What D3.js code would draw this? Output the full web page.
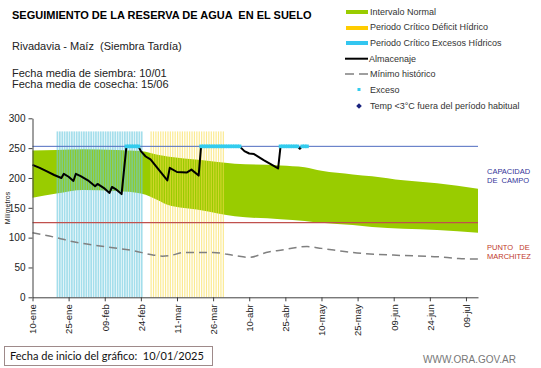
<!DOCTYPE html>
<html>
<head>
<meta charset="utf-8">
<script src="https://cdn.jsdelivr.net/npm/d3@7"></script>
<style>
  body { margin: 0; background: #fff; }
  svg { display: block; font-family: "Liberation Sans", Arial, sans-serif; }
</style>
</head>
<body>
<script>
// fechas
let inicio = "2025-01-10";
let fin = "2025-07-14";
let tickFechas = ["2025-01-10","2025-01-25","2025-02-09","2025-02-24","2025-03-11","2025-03-26",
                  "2025-04-10","2025-04-25","2025-05-10","2025-05-25","2025-06-09","2025-06-24","2025-07-09"];
let meses = ["ene","feb","mar","abr","may","jun","jul"];
let yTicks = [0, 50, 100, 150, 200, 250, 300];

// intervalo normal (dias desde el inicio)
let bandaDias = [0, 10, 21, 35, 45, 53, 56, 70, 84, 103, 113, 120, 133, 141, 154, 168, 185];
let bandaMax  = [246, 247, 248, 247, 245, 238, 236, 230, 224, 221, 218, 212, 206, 203, 196, 191, 182];
let bandaMin  = [167, 174, 180, 178, 174, 161, 155, 146, 136, 131, 128, 125, 121, 118, 115, 113, 108];

// almacenaje
let almDias    = [0, 3, 6, 9, 12, 13, 15, 17, 18, 20, 23, 26, 27, 30, 32, 33, 35, 37, 39, 44, 45, 47, 49, 52, 56,
                  57, 60, 64, 66, 69, 70, 86, 88, 90, 92, 96, 102, 103, 110, 111, 112, 114];
let almValores = [222, 217, 211, 205, 200, 207, 202, 195, 207, 203, 196, 186, 190, 182, 175, 185, 180, 173, 253, 253, 245, 236, 231, 216, 196,
                  217, 210, 209, 214, 204, 253, 253, 245, 241, 240, 230, 216, 253, 253, 249, 253, 253];

// minimo historico
let minDias    = [0, 10, 17, 28, 42, 50, 54, 57, 63, 70, 75, 84, 90, 98, 103, 114, 120, 133, 154, 168, 177, 185];
let minValores = [108, 100, 93, 86, 78, 71, 69, 70, 75, 75, 75, 70, 67, 76, 79, 85, 82, 75, 70, 68, 65, 64];

// dias con exceso (inicio, fin)
let excesoRangos = [[39, 44], [70, 86], [103, 110], [112, 114]];

// periodos criticos
let periodoExceso = ["2025-01-20", "2025-02-24"];
let periodoDeficit = ["2025-02-28", "2025-03-30"];

let capacidadCampo = 253;
let puntoMarchitez = 125;
let alturaPeriodo = 278;

let w = 541, h = 368;
let parse = d3.timeParse("%Y-%m-%d");
let t0 = parse(inicio);
let dia = d => d3.timeDay.offset(t0, d);

let svg = d3.select("body").append("svg").attr("width", w).attr("height", h);

let x = d3.scaleTime().domain([t0, parse(fin)]).range([32.5, 478]);
let y = d3.scaleLinear().domain([0, 300]).range([297.3, 118.3]);

// banda normal
let banda = bandaDias.map((d, i) => ({d: d, hi: bandaMax[i], lo: bandaMin[i]}));
svg.append("path")
  .datum(banda)
  .attr("fill", "#99cc00")
  .attr("d", d3.area()
    .x(d => x(dia(d.d)))
    .y0(d => y(d.lo))
    .y1(d => y(d.hi))
    .curve(d3.curveMonotoneX));

// franjas de periodos criticos
function franjas(periodo, color, ancho, op) {
  let dias = d3.timeDay.range(parse(periodo[0]), d3.timeDay.offset(parse(periodo[1]), 1));
  svg.append("g").selectAll("rect")
    .data(dias)
    .enter()
    .append("rect")
      .attr("x", d => x(d))
      .attr("y", y(alturaPeriodo))
      .attr("width", ancho)
      .attr("height", y(0) - y(alturaPeriodo))
      .attr("fill", color)
      .attr("fill-opacity", op);
}
franjas(periodoExceso, "#6cc9de", 1.7, 0.62);
franjas(periodoDeficit, "#f8dc4a", 1.2, 0.6);

// lineas de referencia
svg.append("line")
  .attr("x1", x.range()[0]).attr("x2", x.range()[1])
  .attr("y1", y(capacidadCampo)).attr("y2", y(capacidadCampo))
  .attr("stroke", "#4f6cc0").attr("stroke-width", 1);
svg.append("line")
  .attr("x1", x.range()[0]).attr("x2", x.range()[1])
  .attr("y1", y(puntoMarchitez)).attr("y2", y(puntoMarchitez))
  .attr("stroke", "#c0504d").attr("stroke-width", 1.2);

// minimo historico
svg.append("path")
  .datum(minDias.map((d, i) => [d, minValores[i]]))
  .attr("fill", "none")
  .attr("stroke", "#808080")
  .attr("stroke-width", 1.5)
  .attr("stroke-dasharray", "8,5")
  .attr("d", d3.line().x(d => x(dia(d[0]))).y(d => y(d[1])).curve(d3.curveMonotoneX));

// almacenaje
svg.append("path")
  .datum(almDias.map((d, i) => [d, almValores[i]]))
  .attr("fill", "none")
  .attr("stroke", "#000")
  .attr("stroke-width", 2)
  .attr("stroke-linejoin", "round")
  .attr("d", d3.line().x(d => x(dia(d[0]))).y(d => y(d[1])));

// exceso
let excesoDias = [];
excesoRangos.forEach(r => { d3.range(r[0], r[1] + 1).forEach(d => excesoDias.push(d)); });
svg.append("g").selectAll("rect")
  .data(excesoDias)
  .enter()
  .append("rect")
    .attr("x", d => x(dia(d)) - 1.8)
    .attr("y", y(capacidadCampo) - 1.8)
    .attr("width", 3.6)
    .attr("height", 3.6)
    .attr("fill", "#33ccee");

// ejes
let fmt = d => d3.timeFormat("%d")(d) + "-" + meses[d.getMonth()];
let xAxis = svg.append("g")
  .attr("transform", "translate(0," + y(0) + ")")
  .call(d3.axisBottom(x).tickValues(tickFechas.map(parse)).tickFormat(fmt).tickSize(4).tickSizeOuter(0));
xAxis.selectAll("text")
  .attr("transform", "rotate(-90)")
  .attr("text-anchor", "end")
  .attr("x", -7)
  .attr("y", 0)
  .attr("dy", "0.35em")
  .attr("font-size", 9.5)
  .attr("fill", "#222");

let yAxis = svg.append("g")
  .attr("transform", "translate(" + x.range()[0] + ",0)")
  .call(d3.axisLeft(y).tickValues(yTicks).tickSize(4).tickSizeOuter(0));
yAxis.selectAll("text").attr("font-size", 10).attr("fill", "#222");

svg.selectAll(".domain, .tick line").attr("stroke", "#404040");

svg.append("text")
  .attr("transform", "translate(10,208) rotate(-90)")
  .attr("text-anchor", "middle")
  .attr("font-size", 7)
  .attr("fill", "#222")
  .text("Milímetros");

// textos
svg.append("text").attr("x", 12).attr("y", 19).attr("font-size", 11).attr("font-weight", "bold")
  .attr("xml:space", "preserve").text("SEGUIMIENTO DE LA RESERVA DE AGUA  EN EL SUELO");
svg.append("text").attr("x", 12).attr("y", 50).attr("font-size", 11).attr("fill", "#222")
  .attr("xml:space", "preserve").text("Rivadavia - Maíz  (Siembra Tardía)");
svg.append("text").attr("x", 12).attr("y", 77).attr("font-size", 11).attr("fill", "#222")
  .text("Fecha media de siembra: 10/01");
svg.append("text").attr("x", 12).attr("y", 88).attr("font-size", 11).attr("fill", "#222")
  .text("Fecha media de cosecha: 15/06");

svg.append("text").attr("x", 487).attr("y", 174).attr("font-size", 7.5).attr("fill", "#333399").text("CAPACIDAD");
svg.append("text").attr("x", 487).attr("y", 183).attr("font-size", 7.5).attr("fill", "#333399")
  .attr("xml:space", "preserve").text("DE  CAMPO");
svg.append("text").attr("x", 487).attr("y", 250).attr("font-size", 7.5).attr("fill", "#c0392b")
  .attr("xml:space", "preserve").text("PUNTO   DE");
svg.append("text").attr("x", 487).attr("y", 259).attr("font-size", 7.5).attr("fill", "#c0392b").text("MARCHITEZ");

// leyenda
let ley = svg.append("g").attr("font-size", 9).attr("fill", "#333");
ley.append("rect").attr("x", 346).attr("y", 10).attr("width", 22).attr("height", 4).attr("fill", "#99cc00");
ley.append("rect").attr("x", 346).attr("y", 26).attr("width", 22).attr("height", 4).attr("fill", "#ffcc00");
ley.append("rect").attr("x", 346).attr("y", 41).attr("width", 22).attr("height", 4).attr("fill", "#33c6f0");
ley.append("line").attr("x1", 345).attr("x2", 368).attr("y1", 58.7).attr("y2", 58.7).attr("stroke", "#000").attr("stroke-width", 2);
ley.append("line").attr("x1", 345).attr("x2", 368).attr("y1", 74).attr("y2", 74)
  .attr("stroke", "#808080").attr("stroke-width", 1.5).attr("stroke-dasharray", "9,5");
ley.append("rect").attr("x", 357.5).attr("y", 88).attr("width", 3).attr("height", 3).attr("fill", "#33ccee");
ley.append("rect").attr("x", -2).attr("y", -2).attr("width", 4).attr("height", 4)
  .attr("transform", "translate(359,106) rotate(45)").attr("fill", "#1a237e");
let leyTextos = ["Intervalo Normal", "Periodo Crítico Déficit Hídrico", "Periodo Crítico Excesos Hídricos",
                 "Almacenaje", "Mínimo histórico", "Exceso", "Temp <3°C fuera del período habitual"];
let leyX = [370, 370, 370, 369, 370, 370, 370];
let leyY = [14.5, 30, 46, 62, 77, 93, 109];
leyTextos.forEach((t, i) => {
  ley.append("text").attr("x", leyX[i]).attr("y", leyY[i]).text(t);
});

// pie
svg.append("rect").attr("x", 4.5).attr("y", 346.5).attr("width", 208).attr("height", 19)
  .attr("fill", "none").attr("stroke", "#9e8a8a");
svg.append("text").attr("x", 10).attr("y", 360).attr("font-size", 11).attr("font-family", "Lato, sans-serif")
  .attr("fill", "#111").attr("xml:space", "preserve").text("Fecha de inicio del gráfico:  10/01/2025");
svg.append("text").attr("x", 423).attr("y", 363).attr("font-size", 10).attr("fill", "#777")
  .text("WWW.ORA.GOV.AR");
</script>
</body>
</html>
